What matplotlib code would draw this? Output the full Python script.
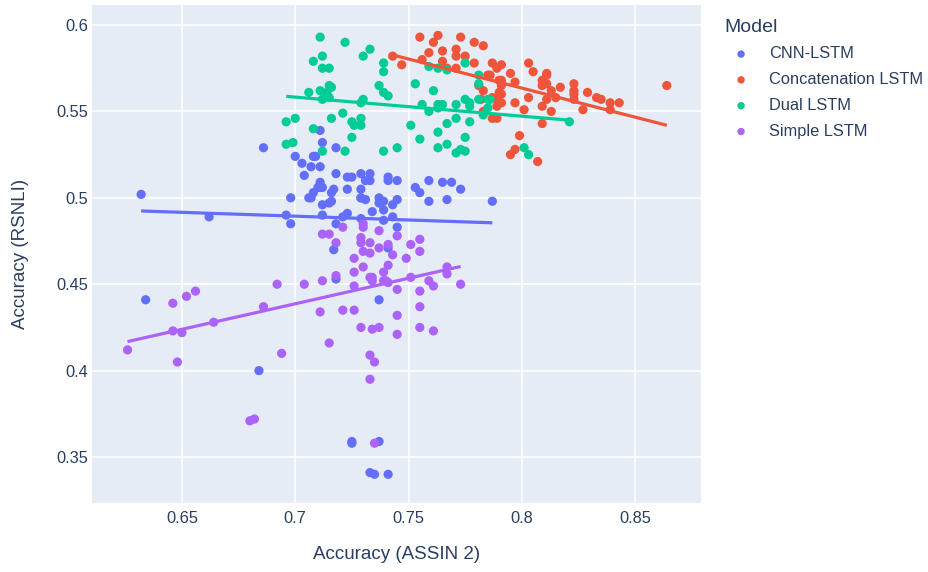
import matplotlib
matplotlib.use("Agg")
import matplotlib.pyplot as plt
import numpy as np

# accuracy pairs (ASSIN 2, RSNLI) per model
cnn_x = [0.632, 0.634, 0.662, 0.686, 0.684, 0.700, 0.703, 0.707, 0.704, 0.708,
         0.711, 0.712, 0.718, 0.709, 0.711, 0.711, 0.711, 0.712, 0.718, 0.723,
         0.725, 0.729, 0.733, 0.731, 0.741, 0.745, 0.753, 0.759, 0.765, 0.769,
         0.773, 0.717, 0.723, 0.729, 0.710, 0.708, 0.707, 0.716, 0.729, 0.733,
         0.729, 0.731, 0.737, 0.739, 0.737, 0.745, 0.743, 0.739, 0.734, 0.741,
         0.755, 0.759, 0.767, 0.787, 0.712, 0.715, 0.716, 0.712, 0.721, 0.723,
         0.718, 0.729, 0.739, 0.743, 0.745, 0.717, 0.741, 0.718, 0.737, 0.696,
         0.698, 0.698, 0.706, 0.725, 0.725, 0.737, 0.733, 0.735, 0.741]
cnn_y = [0.502, 0.441, 0.489, 0.529, 0.400, 0.524, 0.520, 0.518, 0.513, 0.524,
         0.539, 0.532, 0.529, 0.524, 0.518, 0.509, 0.506, 0.506, 0.514, 0.512,
         0.512, 0.514, 0.514, 0.510, 0.512, 0.510, 0.506, 0.510, 0.509, 0.509,
         0.505, 0.505, 0.505, 0.505, 0.506, 0.503, 0.500, 0.503, 0.500, 0.510,
         0.500, 0.499, 0.500, 0.498, 0.497, 0.499, 0.496, 0.493, 0.492, 0.510,
         0.503, 0.498, 0.499, 0.498, 0.496, 0.497, 0.498, 0.490, 0.489, 0.491,
         0.485, 0.488, 0.487, 0.489, 0.483, 0.470, 0.471, 0.453, 0.441, 0.490,
         0.485, 0.500, 0.500, 0.359, 0.358, 0.359, 0.341, 0.340, 0.340]

concat_x = [0.755, 0.763, 0.761, 0.773, 0.779, 0.783, 0.759, 0.765, 0.771, 0.771,
            0.775, 0.765, 0.756, 0.743, 0.747, 0.767, 0.771, 0.779, 0.787, 0.789,
            0.785, 0.790, 0.781, 0.783, 0.787, 0.789, 0.782, 0.783, 0.787, 0.790,
            0.791, 0.795, 0.803, 0.805, 0.811, 0.811, 0.786, 0.791, 0.797, 0.791,
            0.809, 0.811, 0.809, 0.823, 0.813, 0.817, 0.823, 0.823, 0.815, 0.811,
            0.823, 0.829, 0.833, 0.835, 0.839, 0.843, 0.839, 0.827, 0.813, 0.809,
            0.803, 0.797, 0.791, 0.791, 0.789, 0.801, 0.789, 0.809, 0.864, 0.799,
            0.797, 0.795, 0.807]
concat_y = [0.593, 0.594, 0.590, 0.593, 0.590, 0.588, 0.584, 0.585, 0.586, 0.582,
            0.582, 0.579, 0.580, 0.582, 0.577, 0.575, 0.575, 0.578, 0.578, 0.575,
            0.571, 0.568, 0.565, 0.562, 0.558, 0.557, 0.557, 0.550, 0.546, 0.561,
            0.577, 0.572, 0.578, 0.573, 0.572, 0.571, 0.571, 0.568, 0.567, 0.565,
            0.568, 0.566, 0.565, 0.566, 0.562, 0.564, 0.562, 0.560, 0.558, 0.557,
            0.557, 0.561, 0.558, 0.557, 0.555, 0.555, 0.551, 0.551, 0.550, 0.553,
            0.558, 0.555, 0.560, 0.555, 0.553, 0.551, 0.546, 0.543, 0.565, 0.536,
            0.528, 0.525, 0.521]

dual_x = [0.708, 0.706, 0.696, 0.700, 0.708, 0.696, 0.699, 0.711, 0.722, 0.712,
          0.712, 0.715, 0.730, 0.733, 0.739, 0.739, 0.737, 0.739, 0.741, 0.715,
          0.716, 0.711, 0.714, 0.712, 0.715, 0.729, 0.730, 0.716, 0.721, 0.725,
          0.726, 0.729, 0.729, 0.725, 0.712, 0.722, 0.739, 0.745, 0.751, 0.755,
          0.763, 0.763, 0.767, 0.771, 0.773, 0.775, 0.775, 0.767, 0.771, 0.777,
          0.753, 0.761, 0.759, 0.763, 0.767, 0.775, 0.781, 0.781, 0.756, 0.759,
          0.763, 0.765, 0.763, 0.771, 0.775, 0.777, 0.777, 0.781, 0.785, 0.785,
          0.783, 0.786, 0.821, 0.801, 0.803]
dual_y = [0.579, 0.561, 0.544, 0.546, 0.540, 0.531, 0.532, 0.593, 0.590, 0.582,
          0.575, 0.575, 0.582, 0.586, 0.578, 0.573, 0.565, 0.561, 0.559, 0.565,
          0.564, 0.562, 0.561, 0.557, 0.558, 0.555, 0.557, 0.546, 0.549, 0.544,
          0.542, 0.546, 0.542, 0.535, 0.527, 0.527, 0.527, 0.529, 0.542, 0.534,
          0.538, 0.529, 0.531, 0.526, 0.528, 0.527, 0.535, 0.543, 0.546, 0.544,
          0.566, 0.562, 0.576, 0.575, 0.574, 0.578, 0.571, 0.566, 0.554, 0.550,
          0.554, 0.554, 0.552, 0.554, 0.557, 0.555, 0.553, 0.557, 0.557, 0.552,
          0.548, 0.557, 0.544, 0.529, 0.525]

simple_x = [0.646, 0.652, 0.656, 0.646, 0.650, 0.664, 0.686, 0.692, 0.704, 0.626,
            0.648, 0.694, 0.680, 0.682, 0.721, 0.730, 0.730, 0.712, 0.715, 0.737,
            0.745, 0.718, 0.729, 0.729, 0.733, 0.730, 0.733, 0.737, 0.741, 0.743,
            0.751, 0.755, 0.755, 0.749, 0.726, 0.730, 0.741, 0.726, 0.739, 0.718,
            0.733, 0.734, 0.740, 0.741, 0.739, 0.734, 0.751, 0.759, 0.761, 0.767,
            0.767, 0.773, 0.712, 0.726, 0.745, 0.755, 0.711, 0.721, 0.726, 0.745,
            0.755, 0.729, 0.734, 0.737, 0.745, 0.755, 0.761, 0.715, 0.733, 0.735,
            0.733, 0.735]
simple_y = [0.439, 0.443, 0.446, 0.423, 0.422, 0.428, 0.437, 0.450, 0.450, 0.412,
            0.405, 0.410, 0.371, 0.372, 0.483, 0.485, 0.483, 0.479, 0.479, 0.481,
            0.478, 0.474, 0.477, 0.474, 0.474, 0.469, 0.468, 0.471, 0.473, 0.467,
            0.473, 0.476, 0.469, 0.465, 0.465, 0.460, 0.461, 0.457, 0.457, 0.455,
            0.454, 0.454, 0.452, 0.451, 0.452, 0.452, 0.454, 0.452, 0.449, 0.460,
            0.456, 0.450, 0.452, 0.449, 0.447, 0.446, 0.434, 0.435, 0.435, 0.432,
            0.437, 0.425, 0.424, 0.425, 0.421, 0.425, 0.423, 0.416, 0.409, 0.405,
            0.395, 0.358]

models = ["CNN-LSTM", "Concatenation LSTM", "Dual LSTM", "Simple LSTM"]
colors = ["#636efa", "#EF553B", "#00cc96", "#ab63fa"]
series = [(cnn_x, cnn_y), (concat_x, concat_y), (dual_x, dual_y), (simple_x, simple_y)]

xticks = [0.65, 0.7, 0.75, 0.8, 0.85]
yticks = [0.35, 0.4, 0.45, 0.5, 0.55, 0.6]

plt.rcParams["font.family"] = ["Liberation Sans", "DejaVu Sans"]
txt = "#2a3f5f"
fig = plt.figure(figsize=(9.29, 5.72), dpi=100)
ax = fig.add_axes([0.099, 0.1206, 0.6556, 0.8707])
ax.set_facecolor("#E5ECF6")

handles = []
for name, c, (xs, ys) in zip(models, colors, series):
    xs = np.array(xs)
    ys = np.array(ys)
    h = ax.scatter(xs, ys, s=44, color=c, edgecolors="none", zorder=3, label=name)
    handles.append(h)
    # OLS trendline over the range of x
    k, b = np.polyfit(xs, ys, 1)
    lx = np.array([xs.min(), xs.max()])
    ax.plot(lx, k * lx + b, color=c, lw=2.3, zorder=4, solid_capstyle="butt")

ax.set_xlim(0.6103, 0.8791)
ax.set_ylim(0.3234, 0.6116)
ax.set_xticks(xticks)
ax.set_xticklabels([f"{v:g}" for v in xticks])
ax.set_yticks(yticks)
ax.set_yticklabels([f"{v:g}" for v in yticks])
ax.grid(True, color="white", lw=1.1, zorder=0)
ax.set_axisbelow(True)
for s in ax.spines.values():
    s.set_visible(False)
ax.tick_params(length=0, labelsize=11.8, labelcolor=txt)
ax.tick_params(axis="x", pad=5.5)
ax.tick_params(axis="y", pad=2.5)

ax.set_xlabel("Accuracy (ASSIN 2)", fontsize=13.5, color=txt, labelpad=15)
ax.set_ylabel("Accuracy (RSNLI)", fontsize=13.5, color=txt, labelpad=20)

leg = fig.legend(handles=handles, labels=models, loc="upper left",
                 bbox_to_anchor=(0.773, 0.979), frameon=False, title="Model",
                 fontsize=11.8, title_fontsize=14, alignment="left",
                 handletextpad=0.7, labelspacing=0.66, borderaxespad=0,
                 markerscale=0.8)
for t in leg.get_texts():
    t.set_color(txt)
leg.get_title().set_color(txt)

fig.savefig("out.png", dpi=100)
